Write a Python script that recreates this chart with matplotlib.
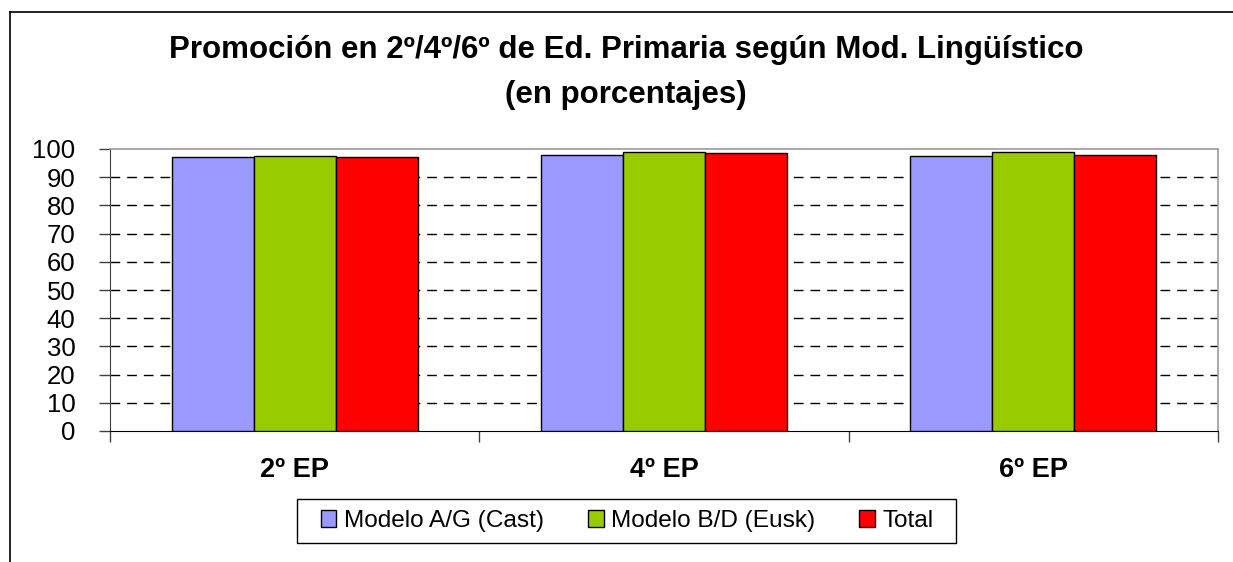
import matplotlib
matplotlib.use("Agg")
import matplotlib.pyplot as plt
from matplotlib.lines import Line2D
from matplotlib.patches import Rectangle
import numpy as np

plt.rcParams["font.family"] = ["Liberation Sans", "DejaVu Sans"]

# data
categories = ["2º EP", "4º EP", "6º EP"]
series_names = ["Modelo A/G (Cast)", "Modelo B/D (Eusk)", "Total"]
modelo_ag = [97.1, 98.0, 97.5]
modelo_bd = [97.6, 98.9, 98.9]
total = [97.1, 98.5, 98.0]
y_ticks = [0, 10, 20, 30, 40, 50, 60, 70, 80, 90, 100]

colors = ["#9999ff", "#99cc00", "#ff0000"]

W, H = 1233, 562
fig = plt.figure(figsize=(W / 100, H / 100), dpi=100)
ax = fig.add_axes([110 / W, 1 - 431 / H, (1218 - 110) / W, (431 - 149) / H])

x = np.arange(len(categories))
bw = 1 / 4.5
for i, (vals, name, c) in enumerate(zip([modelo_ag, modelo_bd, total], series_names, colors)):
    ax.bar(x + (i - 1) * bw, vals, width=bw, color=c, edgecolor="black",
           linewidth=1.0, label=name, zorder=3)

ax.set_xlim(-0.5, len(categories) - 0.5)
ax.set_ylim(0, 100)
ax.set_yticks(y_ticks)
ax.set_yticklabels([str(v) for v in y_ticks], fontsize=18.5)
ax.tick_params(axis="y", length=8, width=1, color="#404040", pad=17)

# category ticks sit on boundaries, labels at centers
ax.set_xticks(np.arange(len(categories) + 1) - 0.5)
ax.set_xticklabels([])
ax.tick_params(axis="x", length=8, width=1, color="#404040")
for xi, lab in zip(x, categories):
    ax.text(xi, -0.14, lab, transform=ax.get_xaxis_transform(), ha="center",
            va="center", fontsize=19.5, fontweight="bold")

for v in y_ticks[1:-1]:
    ax.axhline(v, color="black", linewidth=1.0, dashes=(7, 5), zorder=1)

for s in ["top", "right"]:
    ax.spines[s].set_color("#999999")
    ax.spines[s].set_linewidth(1.2)
ax.spines["left"].set_color("#404040")
ax.spines["bottom"].set_color("black")

fig.text(626 / W, 1 - 50 / H, "Promoción en 2º/4º/6º de Ed. Primaria según Mod. Lingüístico",
         ha="center", va="center", fontsize=22.5, fontweight="bold")
fig.text(626 / W, 1 - 95 / H, "(en porcentajes)",
         ha="center", va="center", fontsize=22.5, fontweight="bold")

# legend: entries without frame, box drawn separately (Excel-style wide padding)
leg = fig.legend(loc="center", bbox_to_anchor=(627 / W, 1 - 521 / H), ncol=3,
                 fontsize=17.6, frameon=False,
                 handlelength=0.65, handleheight=0.65, handletextpad=0.3,
                 columnspacing=1.8, borderpad=0.4)
fig.add_artist(Rectangle((297 / W, 1 - 543 / H), (956 - 297) / W, 44 / H,
                         transform=fig.transFigure, fill=False,
                         edgecolor="black", linewidth=1.0))

# outer chart-area frame (cropped on right/bottom)
fig.add_artist(Line2D([10 / W, 10 / W], [0, 1 - 12 / H], transform=fig.transFigure,
                      color="black", linewidth=1.2))
fig.add_artist(Line2D([10 / W, 1], [1 - 12 / H, 1 - 12 / H], transform=fig.transFigure,
                      color="black", linewidth=1.2))

fig.savefig("out.png", dpi=100)
